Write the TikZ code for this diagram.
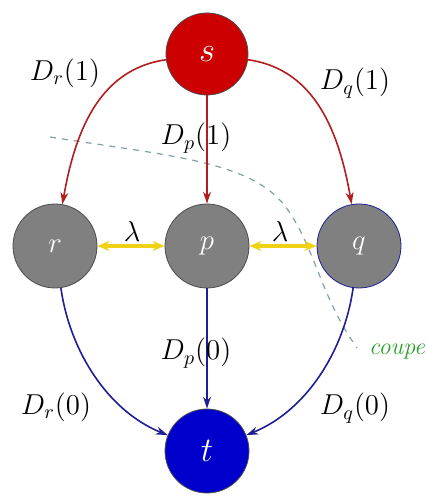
\documentclass[tikz,border=0pt]{standalone}
\usetikzlibrary{arrows.meta}
\definecolor{sred}{RGB}{204,0,0}
\definecolor{ared}{RGB}{178,30,30}
\definecolor{tblue}{RGB}{0,0,204}
\definecolor{ablue}{RGB}{30,30,150}
\definecolor{ngray}{RGB}{128,128,128}
\definecolor{yel}{RGB}{240,210,20}
\definecolor{cutc}{RGB}{130,160,165}
\definecolor{coupec}{RGB}{40,160,40}
\begin{document}
\begin{tikzpicture}[x=0.5pt,y=0.5pt,
  vert/.style={circle,draw=black!70,fill=ngray,minimum size=42pt,inner sep=0pt,text=white,font=\Large},
  redarr/.style={draw=ared,line width=0.8pt,-{Stealth[length=6pt,width=4pt]}},
  bluearr/.style={draw=ablue,line width=0.8pt,-{Stealth[length=6pt,width=4pt]}},
  yelarr/.style={draw=yel,line width=1.6pt,{Stealth[length=6pt,width=5pt]}-{Stealth[length=6pt,width=5pt]}},
  lab/.style={font=\Large}]
\useasboundingbox (0,0) rectangle (425,496);
% nodes
\node[circle,draw=black!70,fill=sred,minimum size=41pt,inner sep=0pt,text=white,font=\LARGE] (s) at (207,442) {$s$};
\node[vert] (r) at (55,250) {$r$};
\node[vert] (p) at (207,250) {$p$};
\node[vert,draw=ablue] (q) at (359,250) {$q$};
\node[circle,draw=black!70,fill=tblue,minimum size=42pt,inner sep=0pt,text=white,font=\LARGE] (t) at (207,45) {$t$};
% cut
\coordinate (c0) at (50,359);
\coordinate (c1) at (357,148);
\draw[cutc,dashed,line width=0.6pt] (c0) .. controls (170,340) and (250,335) .. (285,290)
  .. controls (315,250) and (320,200) .. (c1);
\node[text=coupec,font=\large\itshape,anchor=west] (cp) at (362,144) {coupe};
% red arrows
\draw[redarr] (s) to[out=188,in=80,looseness=1] (r);
\draw[redarr] (s) -- (p);
\draw[redarr] (s) to[out=-8,in=100,looseness=1] (q);
% blue arrows
\draw[bluearr] (r) to[out=-82,in=158,looseness=0.9] (t);
\draw[bluearr] (p) -- (t);
\draw[bluearr] (q) to[out=-98,in=22,looseness=0.9] (t);
% yellow
\draw[yelarr] (r) -- (p);
\draw[yelarr] (p) -- (q);
% labels
\node[lab] (l1) at (65,423) {$D_r(1)$};
\node[lab] (l2) at (355,413) {$D_q(1)$};
\node[lab] (l3) at (196,358) {$D_p(1)$};
\node[lab] (l4) at (196,143) {$D_p(0)$};
\node[lab] (l5) at (56,89) {$D_r(0)$};
\node[lab] (l6) at (355,88) {$D_q(0)$};
\node[lab] (lam1) at (132,264) {$\lambda$};
\node[lab] (lam2) at (280,264) {$\lambda$};
\end{tikzpicture}
\end{document}
